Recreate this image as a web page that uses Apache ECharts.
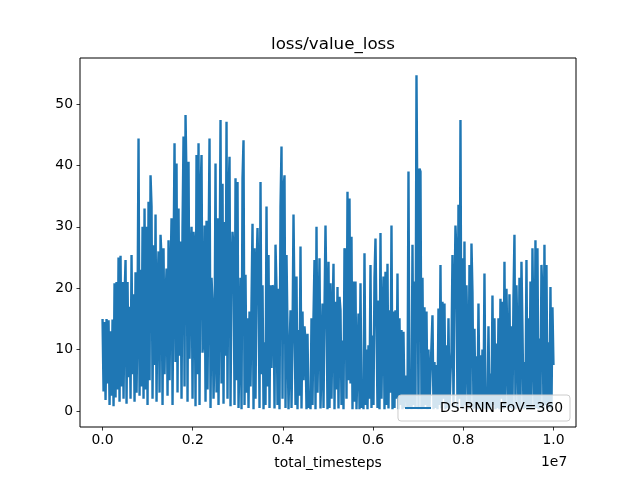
<!DOCTYPE html>
<html><head><meta charset="utf-8">
<script src="https://cdn.jsdelivr.net/npm/echarts@6/dist/echarts.min.js"></script>
<style>html,body{margin:0;padding:0;background:#fff}#c{width:640px;height:480px}</style>
</head><body><div id="c"></div>
<script>
const chartTitle = 'loss/value_loss';
const seriesName = 'DS-RNN FoV=360';
const xLabel = 'total_timesteps';
const xOffsetText = '1e7';
const xTicks = [0, 2e6, 4e6, 6e6, 8e6, 1e7];
const yTicks = [0, 10, 20, 30, 40, 50];
const totalSteps = 1e7;

// value_loss readings, left to right (evenly spaced in timesteps)
const segA = [15.0,3.2,14.5,1.8,15.0,4.5,14.8,1.0,13.0,2.5,14.9,0.8,20.8,2.2,21.0,3.5,25.0,1.5,25.3,4.0,21.0,2.0,18.5,24.6,1.2,21.0,5.5,17.0,2.0,25.4,6.0,19.0,1.5,22.6,3.0,16.0,44.4,2.5,23.0,4.0,30.0,2.0,33.0];
const segB = [3.5,30.0,1.0,34.1,5.0,38.4,33.3,2.0,27.0,7.5,32.0,1.5,20.0,26.0,3.0,28.7,24.9,1.0,26.5,6.0,18.0,23.2,2.5,27.8,5.0,22.0,31.4,1.0,24.0,43.6,8.0,40.3,3.0,33.0,9.0,27.6,2.0,30.0,44.7,4.0,48.2,37.3,1.5,40.6,8.5,25.4];
const segC = [30.0,2.0,29.2,26.5,0.8,41.7,6.0,43.6,1.0,35.0,41.7,9.5,12.0,30.2,1.5,31.0,3.5,25.0,44.4,0.5,21.7,17.8,2.0,10.0,40.3,3.0,31.4,1.0,20.0,47.4,4.5,37.0,1.2,30.8,9.0,47.1,2.0,35.0,41.4,0.8,22.0,29.2,26.5,1.0,37.9,5.0];
const segD = [37.3,0.5,10.0,21.7,0.3,37.9,44.1,1.0,22.2,3.0,15.1,0.5,16.2,4.0,17.8,30.5,0.3,26.5,2.0,22.7,29.8,20.5,0.5,37.3,6.0,20.5,0.3,11.2,1.0,33.3,4.0,25.4,0.5,20.5,7.0,20.5,19.9,0.4,27.1,19.9,1.0,19.9,0.3,33.3,43.1,2.0];
const segE = [36.2,38.4,0.5,25.4,25.1,0.3,9.1,16.4,0.5,12.0,32.0,32.2,1.0,21.9,0.3,13.2,2.5,26.8,0.4,16.2,5.0,13.8,11.2,0.3,12.6,0.5,2.1,0.3,15.1,1.0,15.4,24.6,0.3,30.0,3.0,14.0,24.9,0.4,8.0,17.5,0.5,16.7,30.2,17.2,0.3,24.3];
const segF = [0.5,20.8,2.0,15.0,24.0,0.3,17.8,3.5,20.2,0.4,18.6,16.4,1.0,11.5,0.3,26.5,26.0,2.0,35.7,5.0,34.6,4.5,28.4,0.3,21.1,1.5,21.1,0.3,8.0,15.9,0.3,20.8,0.5,4.5,0.3,25.7,1.0,10.0,0.3,10.7,2.0,23.8,0.5,12.3,1.0,21.7];
const segG = [28.1,28.4,0.5,18.0,0.3,29.0,2.0,15.0,21.9,0.3,22.7,1.0,24.0,0.4,16.4,3.0,30.2,0.3,16.2,0.5,16.4,2.0,22.4,0.3,15.1,1.0,13.2,0.3,12.9,0.5,5.8,3.7,0.3,39.0,0.4,1.5,0.3,27.1,1.0,21.1,0.5,54.7,29.2,0.3,39.5,39.0];
const segH = [0.3,21.7,0.5,16.9,1.0,16.2,0.3,10.0,0.5,6.0,10.7,15.6,0.3,8.0,0.5,7.5,0.3,16.7,1.0,23.8,0.4,17.8,2.0,17.5,0.3,10.7,0.5,15.1,0.3,6.0,9.6,25.4,0.5,18.0,30.2,25.4,0.3,33.6,2.0,47.4,0.5,24.9,0.3,27.6,1.0,20.5];
const segI = [20.5,0.3,23.8,1.0,27.3,19.3,0.3,13.4,0.5,8.9,0.3,17.5,0.5,9.1,0.3,10.0,0.4,22.4,0.3,3.7,0.5,13.8,0.3,6.1,0.4,18.8,1.0,15.1,0.3,11.0,0.5,15.1,0.3,18.3,2.0,17.8,0.3,24.3,0.5,19.9,19.6,0.3,19.0,0.5,13.8,0.3];
const segJ = [18.3,28.7,0.3,20.5,11.2,0.5,21.7,0.3,24.3,13.4,0.3,8.0,0.5,24.6,0.3,15.1,0.5,21.1,0.3,26.5,11.2,0.3,27.8,0.5,26.5,0.3,11.8,0.5,23.8,18.8,0.3,27.1,1.0,23.8,0.3,11.2,0.5,20.2,0.3,16.9,7.5];

const values = [].concat(segA, segB, segC, segD, segE, segF, segG, segH, segI, segJ);
const stepSize = totalSteps / (values.length - 1);
const data = values.map((v, i) => [i * stepSize, v]);

const FONT = 'DejaVu Sans';
const LINE = '#1f77b4';
const chart = echarts.init(document.getElementById('c'), null, {renderer: 'canvas'});
chart.setOption({
  animation: false,
  backgroundColor: '#fff',
  title: {
    text: chartTitle, left: 328, top: 31, textAlign: 'center',
    textStyle: {fontFamily: FONT, fontSize: 16.7, fontWeight: 'normal', color: '#000'}
  },
  grid: {left: 80, right: 64, top: 58, bottom: 53, show: true, borderColor: '#000', borderWidth: 1, backgroundColor: 'transparent'},
  legend: {
    right: 70, bottom: 59, orient: 'vertical',
    backgroundColor: 'rgba(255,255,255,0.8)', borderColor: '#cccccc', borderWidth: 1, borderRadius: 3,
    padding: [6, 7, 6, 7], itemWidth: 26, itemHeight: 2, icon: 'rect',
    itemStyle: {color: LINE},
    textStyle: {fontFamily: FONT, fontSize: 13.9, color: '#000', padding: [0, 0, 0, 4]},
    data: [seriesName]
  },
  xAxis: {
    type: 'value', min: -5e5, max: 1.05e7,
    name: xLabel, nameLocation: 'middle', nameGap: 29,
    nameTextStyle: {fontFamily: FONT, fontSize: 13.9, color: '#000'},
    axisLine: {show: false, onZero: false},
    splitLine: {show: false},
    axisTick: {show: true, inside: false, length: 3.5, customValues: xTicks, lineStyle: {color: '#000', width: 0.8}},
    axisLabel: {customValues: xTicks, margin: 6, fontFamily: FONT, fontSize: 13.9, color: '#000',
      formatter: v => (v / 1e7).toFixed(1)}
  },
  yAxis: {
    type: 'value', min: -2.6, max: 57.5,
    axisLine: {show: false, onZero: false},
    splitLine: {show: false},
    axisTick: {show: true, inside: false, length: 3.5, customValues: yTicks, lineStyle: {color: '#000', width: 0.8}},
    axisLabel: {customValues: yTicks, margin: 7, fontFamily: FONT, fontSize: 13.9, color: '#000'}
  },
  graphic: [{
    type: 'text', left: 541, top: 455,
    style: {text: xOffsetText, fontFamily: FONT, fontSize: 13.9, fill: '#000'}
  }],
  series: [{
    name: seriesName, type: 'line', data: data, symbol: 'none',
    lineStyle: {color: LINE, width: 2.4}, itemStyle: {color: LINE},
    emphasis: {disabled: true}
  }]
});
</script>
</body></html>
